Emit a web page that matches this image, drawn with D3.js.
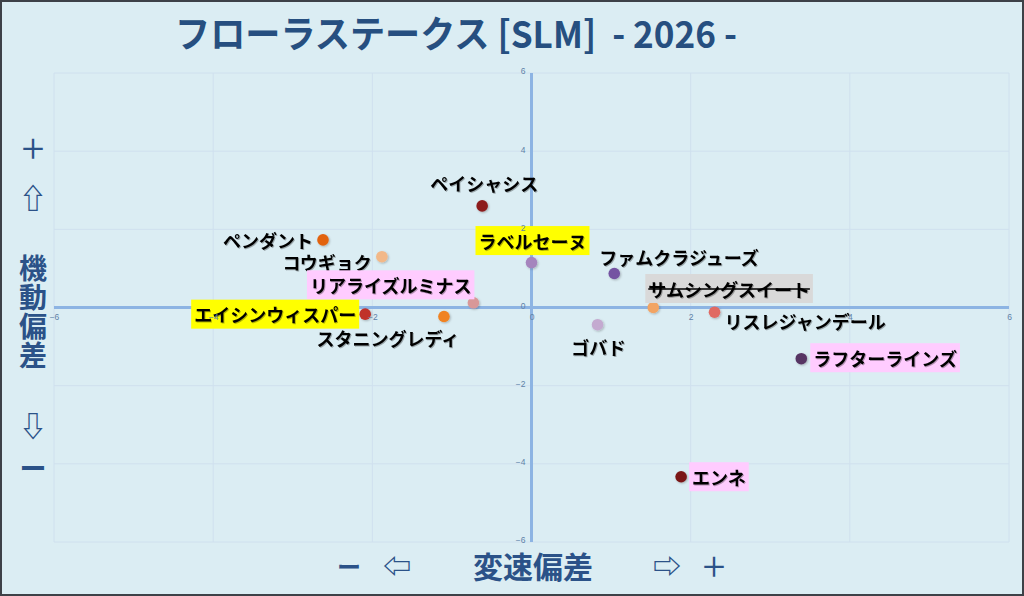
<!DOCTYPE html>
<html><head><meta charset="utf-8">
<script src="https://cdn.jsdelivr.net/npm/d3@7"></script>
<style>
html,body{margin:0;padding:0;background:#dbedf3;}
svg{display:block;}
</style></head><body>
<svg id="chart" width="1024" height="596"></svg>
<script>
// ---- data ----
const horses = ["ペイシャシス","ペンダント","コウギョク","リアライズルミナス","ラベルセーヌ","エイシンウィスパー","スタニングレディ","ファムクラジューズ","サムシングスイート","リスレジャンデール","ゴバド","ラフターラインズ","エンネ"];
const speedDev = [-0.62,-2.62,-1.88,-0.73,0.00,-2.09,-1.10,1.04,1.53,2.30,0.83,3.39,1.88];
const mobilityDev = [2.60,1.73,1.30,0.12,1.15,-0.17,-0.23,0.87,0.00,-0.12,-0.44,-1.31,-4.33];
const marks = ["","","","pink","yellow","yellow","","","scratch","","","pink","pink"];
const xTicks = [-6,-4,-2,0,2,4,6];
const yTicks = [-6,-4,-2,0,2,4,6];
const titleText = "フローラステークス [SLM]  - 2026 -";

// ---- styles / layout ----
const pointColors = ["#8c1c1c","#e2620f","#f2b888","#d89898","#a584bd","#c0302c","#f08220","#7452a2","#f2a464","#e06a64","#c4aad0","#573463","#7a1818"];
const labelLayout = [
  {a:"middle",dx:2,dy:-23},{a:"end",dx:-10,dy:0},{a:"end",dx:-10,dy:5},{a:"end",dx:-2,dy:-18},
  {a:"middle",dx:1,dy:-22},{a:"end",dx:-9,dy:0},{a:"middle",dx:-56,dy:22},{a:"start",dx:-15,dy:-16},
  {a:"start",dx:-5,dy:-19},{a:"start",dx:10,dy:9},{a:"middle",dx:1,dy:22},{a:"start",dx:12,dy:-1},{a:"start",dx:11,dy:0}
];
const markFill = {yellow:"#ffff00", pink:"#ffccff", scratch:"#d9d9d9"};

const svg = d3.select("#chart");
const W=1024,H=596;
const plot = {l:54, r:1009, t:73, b:542};
const x = d3.scaleLinear().domain([-6,6]).range([plot.l, plot.r]);
const y = d3.scaleLinear().domain([-6,6]).range([plot.b, plot.t]);

// background + frame
svg.append("rect").attr("x",0).attr("y",0).attr("width",W).attr("height",H).attr("fill","#dbedf3");
svg.append("rect").attr("x",1).attr("y",1).attr("width",W-2).attr("height",H-2).attr("fill","none").attr("stroke","#3d4147").attr("stroke-width",2);

const defs = svg.append("defs");
const f = defs.append("filter").attr("id","sh").attr("x","-50%").attr("y","-50%").attr("width","200%").attr("height","200%");
f.append("feDropShadow").attr("dx",1).attr("dy",1).attr("stdDeviation",1).attr("flood-color","#000").attr("flood-opacity",0.25);
const f2 = defs.append("filter").attr("id","tsh").attr("x","-10%").attr("y","-30%").attr("width","120%").attr("height","160%");
f2.append("feDropShadow").attr("dx",1).attr("dy",1).attr("stdDeviation",0.6).attr("flood-color","#000").attr("flood-opacity",0.3);

// grid
const g = svg.append("g");
g.append("g").selectAll("line").data(xTicks).join("line")
  .attr("x1",d=>x(d)).attr("x2",d=>x(d)).attr("y1",plot.t).attr("y2",plot.b)
  .attr("stroke","#cfe0ee").attr("stroke-width",1);
g.append("g").selectAll("line").data(yTicks).join("line")
  .attr("y1",d=>y(d)).attr("y2",d=>y(d)).attr("x1",plot.l).attr("x2",plot.r)
  .attr("stroke","#cfe0ee").attr("stroke-width",1);

// zero axes
g.append("line").attr("x1",plot.l).attr("x2",plot.r).attr("y1",y(0)).attr("y2",y(0)).attr("stroke","#8db4e3").attr("stroke-width",3);
g.append("line").attr("x1",x(0)).attr("x2",x(0)).attr("y1",plot.t).attr("y2",plot.b).attr("stroke","#8db4e3").attr("stroke-width",3);

// points
svg.append("g").selectAll("circle").data(horses).join("circle")
  .attr("cx",(d,i)=>x(speedDev[i])).attr("cy",(d,i)=>y(mobilityDev[i])).attr("r",5.8)
  .attr("fill",(d,i)=>pointColors[i]).attr("filter","url(#sh)");

// labels
const lg = svg.append("g");
horses.forEach((name,i)=>{
  const px=x(speedDev[i]), py=y(mobilityDev[i]);
  const L=labelLayout[i];
  const grp = lg.append("g");
  const t = grp.append("text").attr("x",px+L.dx).attr("y",py+L.dy).attr("text-anchor",L.a)
    .attr("dominant-baseline","central").attr("font-family","'Noto Sans CJK JP', sans-serif")
    .attr("font-weight",700).attr("font-size",18).attr("fill","#000").attr("filter","url(#tsh)").text(name);
  const bb = t.node().getBBox();
  if(marks[i]){
    grp.insert("rect","text").attr("x",bb.x-3).attr("y",py+L.dy-14.5).attr("width",bb.width+6).attr("height",29)
      .attr("fill",markFill[marks[i]]);
  }
  if(marks[i]==="scratch"){
    grp.append("line").attr("x1",bb.x).attr("x2",bb.x+bb.width).attr("y1",py+L.dy+0.5).attr("y2",py+L.dy+0.5)
      .attr("stroke","#000").attr("stroke-width",1.5);
  }
});

// axes through d3 (tick labels on top)
const xAxis = d3.axisBottom(x).tickValues(xTicks).tickSize(0).tickPadding(6).tickFormat(d3.format("d"));
const yAxis = d3.axisLeft(y).tickValues(yTicks).tickSize(0).tickPadding(6).tickFormat(d3.format("d"));
const xa = svg.append("g").attr("transform",`translate(0,${y(0)})`).call(xAxis);
const ya = svg.append("g").attr("transform",`translate(${x(0)},0)`).call(yAxis);
[xa,ya].forEach(a=>{
  a.select(".domain").remove();
  a.selectAll("text").attr("fill","#5f82a8").attr("font-size",8.5).attr("font-family","Liberation Sans, Arial, sans-serif");
});
ya.selectAll("text").attr("dy","0.1em");

// title
svg.append("text").attr("x",175).attr("y",48)
  .attr("font-family","'Noto Sans CJK JP', sans-serif").attr("font-weight",700).attr("font-size",37)
  .attr("textLength",562).attr("lengthAdjust","spacingAndGlyphs")
  .style("white-space","pre").attr("xml:space","preserve")
  .attr("fill","#264f80").text(titleText);

// axis titles
const axColor="#2b5288";
const xt = svg.append("g").attr("font-family","'Noto Sans CJK JP', sans-serif").attr("fill",axColor).attr("font-weight",700);
xt.append("text").attr("x",349).attr("y",565).attr("text-anchor","middle").attr("dominant-baseline","central").attr("font-size",24).text("ー");
xt.append("text").attr("x",397).attr("y",565).attr("text-anchor","middle").attr("dominant-baseline","central").attr("font-size",28).text("⇦");
xt.append("text").attr("x",533).attr("y",565).attr("text-anchor","middle").attr("dominant-baseline","central").attr("font-size",30).text("変速偏差");
xt.append("text").attr("x",667).attr("y",565).attr("text-anchor","middle").attr("dominant-baseline","central").attr("font-size",28).text("⇨");
xt.append("text").attr("x",714).attr("y",565).attr("text-anchor","middle").attr("dominant-baseline","central").attr("font-size",27).attr("font-weight",500).text("＋");

const yt = svg.append("g").attr("font-family","'Noto Sans CJK JP', sans-serif").attr("fill",axColor).attr("font-weight",700).attr("text-anchor","middle");
yt.append("text").attr("x",33).attr("y",147).attr("dominant-baseline","central").attr("font-size",27).attr("font-weight",500).text("＋");
yt.append("text").attr("x",33).attr("y",197).attr("dominant-baseline","central").attr("font-size",28).text("⇧");
["機","動","偏","差"].forEach((c,i)=>{
  yt.append("text").attr("x",33).attr("y",267+i*29).attr("dominant-baseline","central").attr("font-size",28).text(c);
});
yt.append("text").attr("x",33).attr("y",425).attr("dominant-baseline","central").attr("font-size",28).text("⇩");
yt.append("text").attr("x",33).attr("y",467).attr("dominant-baseline","central").attr("font-size",27).text("ー");
</script>
</body></html>
